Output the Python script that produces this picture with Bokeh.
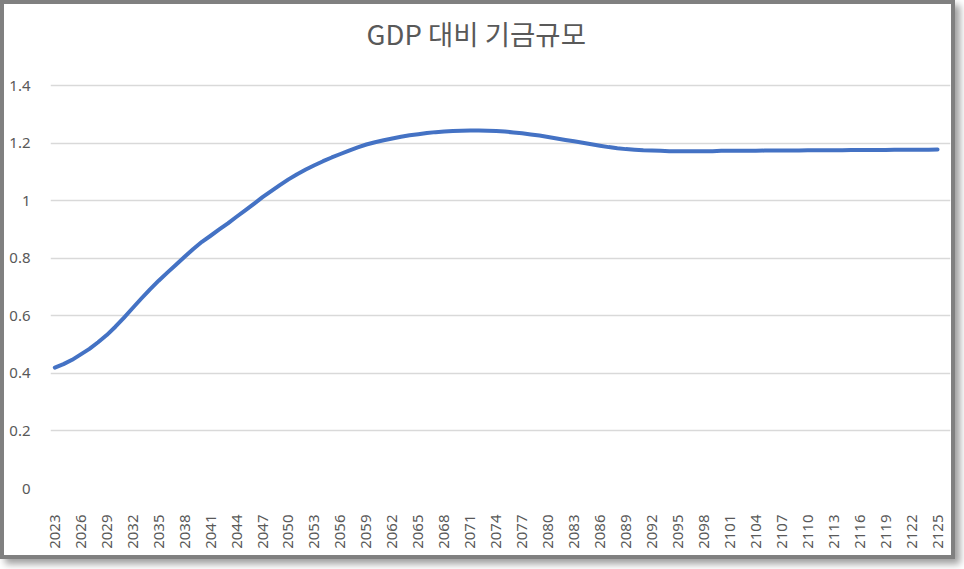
from bokeh.plotting import figure
from bokeh.models import Range1d, FixedTicker, CustomJSTickFormatter, Label
from bokeh.embed import file_html
from bokeh.resources import INLINE
import math

title_text = "GDP 대비 기금규모"
years = list(range(2023, 2126))
fund_ratio = [
    0.420, 0.432, 0.447, 0.466, 0.485, 0.508, 0.533, 0.562, 0.594, 0.627,
    0.660, 0.692, 0.722, 0.750, 0.777, 0.805, 0.832, 0.857, 0.878, 0.900,
    0.921, 0.944, 0.966, 0.989, 1.012, 1.033, 1.054, 1.074, 1.092, 1.108,
    1.123, 1.137, 1.150, 1.162, 1.174, 1.185, 1.195, 1.203, 1.210, 1.216,
    1.222, 1.227, 1.231, 1.235, 1.238, 1.240, 1.242, 1.243, 1.244, 1.244,
    1.243, 1.242, 1.240, 1.237, 1.234, 1.230, 1.226, 1.221, 1.216, 1.211,
    1.206, 1.201, 1.196, 1.191, 1.186, 1.182, 1.179, 1.177, 1.175, 1.174,
    1.173, 1.172, 1.172, 1.172, 1.172, 1.172, 1.172, 1.173, 1.173, 1.173,
    1.173, 1.173, 1.174, 1.174, 1.174, 1.174, 1.174, 1.175, 1.175, 1.175,
    1.175, 1.175, 1.176, 1.176, 1.176, 1.176, 1.176, 1.177, 1.177, 1.177,
    1.177, 1.177, 1.178,
]
x_tick_years = list(range(2023, 2126, 3))
y_ticks = [0, 0.2, 0.4, 0.6, 0.8, 1.0, 1.2, 1.4]

TEXT = "#595959"
GRID = "#d9d9d9"
LINE = "#4472C4"

# frame reaches the top of the chart; the extra range above 1.4 holds the title
Y_TOP = 1.4 + 81 * 1.4 / 403

p = figure(
    width=947, height=551,
    output_backend="svg", toolbar_location=None,
    x_range=Range1d(2022.5, 2126.5), y_range=Range1d(0, Y_TOP),
    min_border_left=46, min_border_right=1, min_border_top=0, min_border_bottom=67,
    title=None,
)
p.outline_line_color = None
p.background_fill_color = "white"
p.border_fill_color = "white"
p.styles = {
    "position": "relative", "left": "4px", "top": "4px",
    "box-shadow": "0 0 0 4px #808080, 5px 5px 7px 4px #a0a0a0",
}

p.line(years, fund_ratio, line_color=LINE, line_width=4, line_join="round", line_cap="round")

title = Label(
    x=2071.7, y=1.4 + 53 * 1.4 / 403,
    text=title_text, text_align="center", text_baseline="alphabetic",
    text_font="Noto Sans CJK KR", text_font_size="27.5px", text_color=TEXT,
)
p.add_layout(title)

p.xaxis.ticker = FixedTicker(ticks=x_tick_years)
p.yaxis.ticker = FixedTicker(ticks=y_ticks)
p.yaxis.formatter = CustomJSTickFormatter(code="return (Math.round(tick*10)/10).toString();")
for ax in (p.xaxis, p.yaxis):
    ax.axis_line_color = None
    ax.major_tick_line_color = None
    ax.minor_tick_line_color = None
    ax.major_label_text_color = TEXT
    ax.major_label_text_font = "Noto Sans"
    ax.major_label_text_font_size = "15px"
p.xaxis.major_label_orientation = math.pi / 2
p.xaxis.major_label_standoff = 20
p.yaxis.major_label_standoff = 14

p.xgrid.grid_line_color = None
p.ygrid.grid_line_color = GRID
p.ygrid.grid_line_width = 1.3

open("out.html", "w").write(file_html(p, INLINE))
